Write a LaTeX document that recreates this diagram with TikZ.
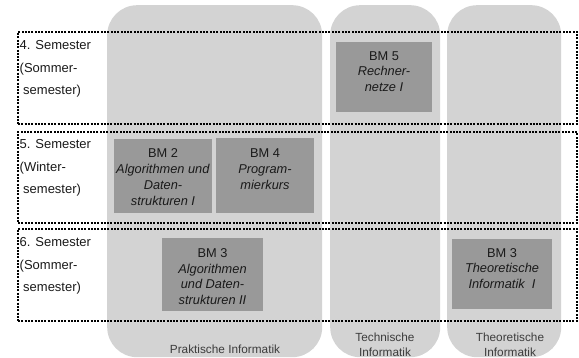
\documentclass[tikz,border=0pt]{standalone}
\usepackage{fontspec}
\setmainfont{Liberation Sans}
\definecolor{colgrey}{HTML}{D3D3D3}
\definecolor{modgrey}{HTML}{999999}
\definecolor{txt}{HTML}{1A1A1A}
\begin{document}
\begin{tikzpicture}[x=1pt,y=-1pt,
  col/.style={fill=colgrey, draw=none, rounded corners=30pt, inner sep=0pt, anchor=north west},
  modbox/.style={fill=modgrey, draw=none, inner sep=0pt, anchor=north west},
  modtext/.style={text=txt, align=center, inner sep=0pt, font=\fontsize{12.8}{15.8}\selectfont},
  semrow/.style={draw=black, line width=2pt, dash pattern=on 2pt off 1.3pt, inner sep=0pt, anchor=north west},
  semtext/.style={text=txt, align=left, inner sep=0pt, anchor=north west, font=\fontsize{13}{22.3}\selectfont},
  coltext/.style={text=txt!85, align=center, inner sep=0pt, font=\fontsize{11.8}{15}\selectfont}
]
\useasboundingbox (0,0) rectangle (579,358);
% columns
\node[col, minimum width=215pt, minimum height=352pt] (prak) at (107,5) {};
\node[col, minimum width=110pt, minimum height=352pt] (tech) at (330,5) {};
\node[col, minimum width=114pt, minimum height=352pt] (theo) at (447,5) {};
% module boxes
\node[modbox, minimum width=96pt, minimum height=70pt] (bm5) at (336,42) {};
\node[modbox, minimum width=98pt, minimum height=74pt] (bm2) at (114,138.5) {};
\node[modbox, minimum width=98pt, minimum height=74.5pt] (bm4) at (216,138) {};
\node[modbox, minimum width=101pt, minimum height=73pt] (bm3a) at (162,238) {};
\node[modbox, minimum width=100pt, minimum height=70pt] (bm3t) at (452,239) {};
% module texts
\node[modtext] (t5) at (384,71.5) {BM 5\\\textit{Rechner-}\\\textit{netze I}};
\node[modtext] (t2) at (163,177) {BM 2\\\textit{Algorithmen und}\\\textit{Daten-}\\\textit{strukturen I}};
\node[modtext] (t4) at (265,169) {BM 4\\\textit{Program-}\\\textit{mierkurs}};
\node[modtext] (t3a) at (212.5,276.5) {BM 3\\\textit{Algorithmen}\\\textit{und Daten-}\\\textit{strukturen II}};
\node[modtext] (t3t) at (502,268.5) {BM 3\\\textit{Theoretische}\\\textit{Informatik\ \ I}};
% semester rows
\node[semrow, minimum width=559pt, minimum height=92pt] (row4) at (17,31) {};
\node[semrow, minimum width=559pt, minimum height=91pt] (row5) at (17,131) {};
\node[semrow, minimum width=559pt, minimum height=92pt] (row6) at (17,228) {};
% semester labels
\node[semtext] (s4) at (19.5,40.5) {4. Semester\\(Sommer-\\\hspace*{3.5pt}semester)};
\node[semtext] (s5) at (19.5,139.5) {5. Semester\\(Winter-\\\hspace*{3.5pt}semester)};
\node[semtext] (s6) at (19.5,237.5) {6. Semester\\(Sommer-\\\hspace*{3.5pt}semester)};
% column labels
\node[coltext] (lp) at (225,349) {Praktische Informatik};
\node[coltext] (lt) at (385,344.5) {Technische\\Informatik};
\node[coltext] (lth) at (510,345) {Theoretische\\Informatik};
\end{tikzpicture}
\end{document}
